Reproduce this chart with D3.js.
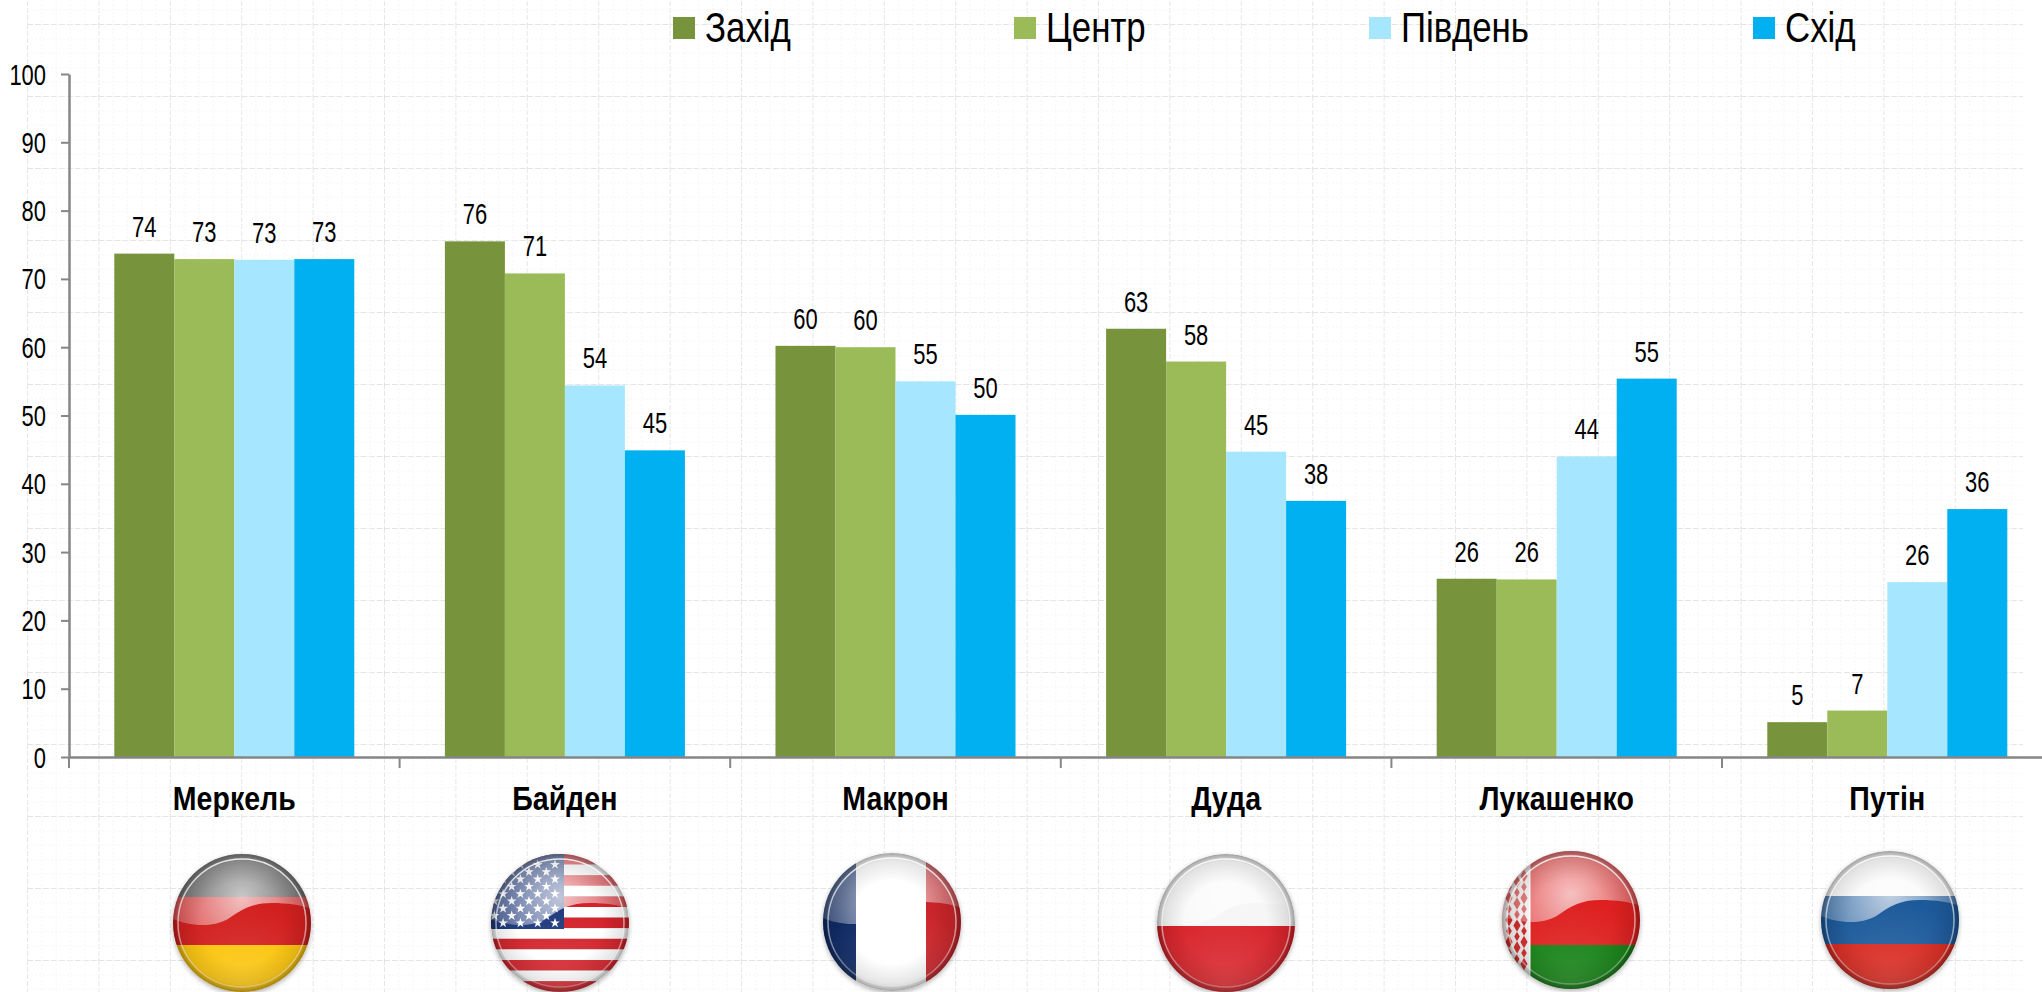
<!DOCTYPE html>
<meta charset="utf-8">
<style>
html, body { margin: 0; background: #fff; }
svg { display: block; font-family: "Liberation Sans", Arial, sans-serif; }
</style>
<svg width="2042" height="992"></svg>
<script src="https://d3js.org/d3.v7.min.js"></script>
<script>

var leaders = ["Меркель", "Байден", "Макрон", "Дуда", "Лукашенко", "Путін"];
var regions = ["Захід", "Центр", "Південь", "Схід"];
var colours = ["#77933C", "#9BBB59", "#A6E6FF", "#00B0F0"];

var zakhid  = [73.7, 75.5, 60.2, 62.7, 26.1, 5.1];
var tsentr  = [72.9, 70.8, 60.0, 57.9, 26.0, 6.8];
var pivden  = [72.8, 54.4, 55.0, 44.7, 44.0, 25.6];
var skhid   = [72.9, 44.9, 50.1, 37.5, 55.4, 36.3];
var series = [zakhid, tsentr, pivden, skhid];

var yTicks = [0, 10, 20, 30, 40, 50, 60, 70, 80, 90, 100];

var svg = d3.select("svg"),
    defs = svg.append("defs");

/** paper texture behind everything **/
var paper = defs.append("pattern")
    .attr("id", "paper")
    .attr("patternUnits", "userSpaceOnUse")
    .attr("patternTransform", "translate(27,24)")
    .attr("width", 71.4)
    .attr("height", 72);
d3.range(5).forEach(function(i) {
  paper.append("path").attr("d", "M" + (i * 14.28 + .5) + " 0V72")
      .attr("stroke", i ? "#f5f5f5" : "#e6e6e6").attr("stroke-dasharray", i ? "2 2" : "5 2");
  paper.append("path").attr("d", "M0 " + (i * 14.4 + .5) + "H71.4")
      .attr("stroke", i ? "#f5f5f5" : "#e4e4e4").attr("stroke-dasharray", i ? "2 2" : "6 2");
});
svg.append("rect")
    .attr("x", 27).attr("y", 0).attr("width", 1996).attr("height", 992)
    .attr("fill", "url(#paper)");

/** scales **/
var x = d3.scaleBand().domain(leaders).range([69, 2052.6]).paddingInner(0.274).paddingOuter(0.137);
var x1 = d3.scaleBand().domain(regions).range([0, x.bandwidth()]);
var y = d3.scaleLinear().domain([0, 100]).range([757, 74]);

/** bars **/
var group = svg.append("g").selectAll("g")
    .data(leaders)
  .enter().append("g")
    .attr("transform", function(d) { return "translate(" + x(d) + ",0)"; });

regions.forEach(function(region, s) {
  group.append("rect")
      .attr("x", x1(region))
      .attr("y", function(d, i) { return y(series[s][i]); })
      .attr("width", x1.bandwidth())
      .attr("height", function(d, i) { return y(0) - y(series[s][i]); })
      .attr("fill", colours[s]);

  group.append("text")
      .attr("transform", function(d, i) {
        return "translate(" + (x1(region) + x1.bandwidth() / 2) + "," + (y(series[s][i]) - 17) + ") scale(.757,1)";
      })
      .attr("text-anchor", "middle")
      .attr("font-size", 29)
      .attr("fill", "#000")
      .text(function(d, i) { return Math.round(series[s][i]); });
});

/** axes **/
var yAxis = svg.append("g")
    .attr("transform", "translate(69,0)")
    .call(d3.axisLeft(y).tickValues(yTicks).tickSize(8).tickSizeOuter(0));
yAxis.selectAll("line").attr("stroke", "#868686").attr("stroke-width", 2);
yAxis.select(".domain").attr("stroke", "#868686").attr("stroke-width", 2.5);
yAxis.selectAll("text")
    .attr("x", null)
    .attr("dy", null)
    .attr("transform", "translate(-23,10) scale(.757,1)")
    .attr("font-size", 29)
    .attr("fill", "#000");
yAxis.attr("font-family", null).attr("font-size", null);

var xAxis = svg.append("g")
    .attr("transform", "translate(0," + y(0) + ")")
    .call(d3.axisBottom(x).tickSize(0).tickSizeOuter(0));
xAxis.select(".domain").attr("stroke", "#868686").attr("stroke-width", 2.5);
xAxis.attr("font-family", null).attr("font-size", null);
xAxis.selectAll("text")
    .attr("y", null)
    .attr("dy", null)
    .attr("transform", "translate(0,53) scale(.84,1)")
    .attr("font-size", 34)
    .attr("font-weight", "bold")
    .attr("fill", "#000");

// ticks sit between the groups, not under them
xAxis.selectAll(".between")
    .data(d3.range(leaders.length))
  .enter().append("line")
    .attr("class", "between")
    .attr("x1", function(i) { return x(leaders[i]) - x.step() * x.paddingOuter(); })
    .attr("x2", function(i) { return x(leaders[i]) - x.step() * x.paddingOuter(); })
    .attr("y2", 11)
    .attr("stroke", "#868686")
    .attr("stroke-width", 2);

/** legend **/
var legendSwatch = [673, 1014, 1369, 1753];
var legend = svg.append("g").selectAll("g")
    .data(regions)
  .enter().append("g")
    .attr("transform", function(d, i) { return "translate(" + legendSwatch[i] + ",17)"; });
legend.append("rect")
    .attr("width", 22).attr("height", 22)
    .attr("fill", function(d, i) { return colours[i]; });
legend.append("text")
    .attr("transform", "translate(32,25) scale(.83,1)")
    .attr("font-size", 42)
    .attr("fill", "#000")
    .text(function(d) { return d; });

/** flags **/
var flagCentres = [[242, 923], [560, 923], [892, 922], [1226, 923], [1571, 920], [1890, 920]];
var R = 69;

var shade = defs.append("radialGradient").attr("id", "shade");
shade.append("stop").attr("offset", "60%").attr("stop-color", "#000").attr("stop-opacity", 0);
shade.append("stop").attr("offset", "90%").attr("stop-color", "#000").attr("stop-opacity", .1);
shade.append("stop").attr("offset", "100%").attr("stop-color", "#000").attr("stop-opacity", .36);

var gloss = defs.append("radialGradient").attr("id", "gloss")
    .attr("gradientUnits", "userSpaceOnUse").attr("cx", 0).attr("cy", -26).attr("r", 78);
gloss.append("stop").attr("offset", "0%").attr("stop-color", "#fff").attr("stop-opacity", .72);
gloss.append("stop").attr("offset", "100%").attr("stop-color", "#fff").attr("stop-opacity", .18);

var low = defs.append("radialGradient").attr("id", "lowglow").attr("cy", "95%").attr("r", "60%");
low.append("stop").attr("offset", "0%").attr("stop-color", "#fff").attr("stop-opacity", .14);
low.append("stop").attr("offset", "100%").attr("stop-color", "#fff").attr("stop-opacity", 0);

var ringFade = defs.append("linearGradient").attr("id", "ringFade")
    .attr("gradientUnits", "userSpaceOnUse").attr("x1", 0).attr("y1", -R).attr("x2", 0).attr("y2", R);
ringFade.append("stop").attr("offset", "0%").attr("stop-color", "#fff").attr("stop-opacity", .85);
ringFade.append("stop").attr("offset", "100%").attr("stop-color", "#fff").attr("stop-opacity", .25);

var soft = defs.append("filter").attr("id", "soft").attr("x", "-20%").attr("y", "-20%").attr("width", "140%").attr("height", "140%");
soft.append("feGaussianBlur").attr("stdDeviation", 2.5);

defs.append("clipPath").attr("id", "disc").append("circle").attr("r", R);

function bands(g, list) {
  list.forEach(function(b) {
    g.append("rect").attr("x", b[0]).attr("y", b[1]).attr("width", b[2]).attr("height", b[3]).attr("fill", b[4]);
  });
}

var flagPainters = [
  function(g) { bands(g, [[-R, -R, 2 * R, 43, "#3a3a3a"], [-R, -26, 2 * R, 48, "#d2201f"], [-R, 22, 2 * R, 48, "#fbc40a"]]); },
  function(g) {
    d3.range(13).forEach(function(i) {
      g.append("rect").attr("x", -R).attr("y", -R + i * 10.6).attr("width", 2 * R).attr("height", 10.6)
          .attr("fill", i % 2 ? "#fff" : "#d3222a");
    });
    g.append("rect").attr("x", -R).attr("y", -R).attr("width", R + 4).attr("height", 75).attr("fill", "#1f3a7d");
    var star = d3.symbol().type(d3.symbolStar).size(30);
    d3.range(9).forEach(function(r) {
      d3.range(5).forEach(function(c) {
        g.append("path").attr("d", star)
            .attr("transform", "translate(" + (-5 - c * 17.3 - (r % 2 ? 8.7 : 0)) + "," + (-r * 7.3) + ")")
            .attr("fill", "#fff");
      });
    });
  },
  function(g) { bands(g, [[-R, -R, 33, 2 * R, "#0f2b66"], [-36, -R, 70, 2 * R, "#fff"], [34, -R, 36, 2 * R, "#c9252b"]]); },
  function(g) { bands(g, [[-R, -R, 2 * R, 72, "#f6f6f6"], [-R, 3, 2 * R, 67, "#d8232a"]]); },
  function(g) {
    bands(g, [[-R, -R, 2 * R, 94, "#de2020"], [-R, 25, 2 * R, 45, "#128012"], [-R, -R, 27, 2 * R, "#f4eeee"]]);
    // national ornament on the hoist
    var diamond = d3.symbol().type(d3.symbolDiamond);
    d3.range(11).forEach(function(r) {
      [-62, -54, -47].forEach(function(cx, c) {
        g.append("path").attr("d", diamond.size(r % 2 ? 44 : 26))
            .attr("transform", "translate(" + cx + "," + (-55 + r * 11 + (c === 1 ? 5.5 : 0)) + ")")
            .attr("fill", "#cf2a2a");
      });
    });
    g.append("rect").attr("x", -42).attr("y", -R).attr("width", 1.5).attr("height", 2 * R).attr("fill", "#fff");
  },
  function(g) { bands(g, [[-R, -R, 2 * R, 45, "#f6f6f6"], [-R, -24, 2 * R, 48, "#1d5a9b"], [-R, 24, 2 * R, 46, "#d8281f"]]); }
];

var waveGloss = "M-69 -4C-55 2 -32 6 -14 -4C0 -14 10 -20 30 -20C45 -20 60 -18 69 -14V-69H-69Z";

leaders.forEach(function(name, i) {
  var c = flagCentres[i];
  var g = svg.append("g").attr("transform", "translate(" + c[0] + "," + c[1] + ")");
  g.append("circle").attr("r", R).attr("cy", 2).attr("fill", "#000").attr("opacity", .3).attr("filter", "url(#soft)");
  var inner = g.append("g").attr("clip-path", "url(#disc)");
  flagPainters[i](inner);
  inner.append("circle").attr("r", R).attr("fill", "url(#lowglow)");
  inner.append("path").attr("d", waveGloss).attr("fill", "url(#gloss)");
  inner.append("circle").attr("r", R).attr("fill", "url(#shade)");
  g.append("circle").attr("r", R - 5).attr("fill", "none").attr("stroke", "url(#ringFade)").attr("stroke-width", 1.5);
});

</script>
